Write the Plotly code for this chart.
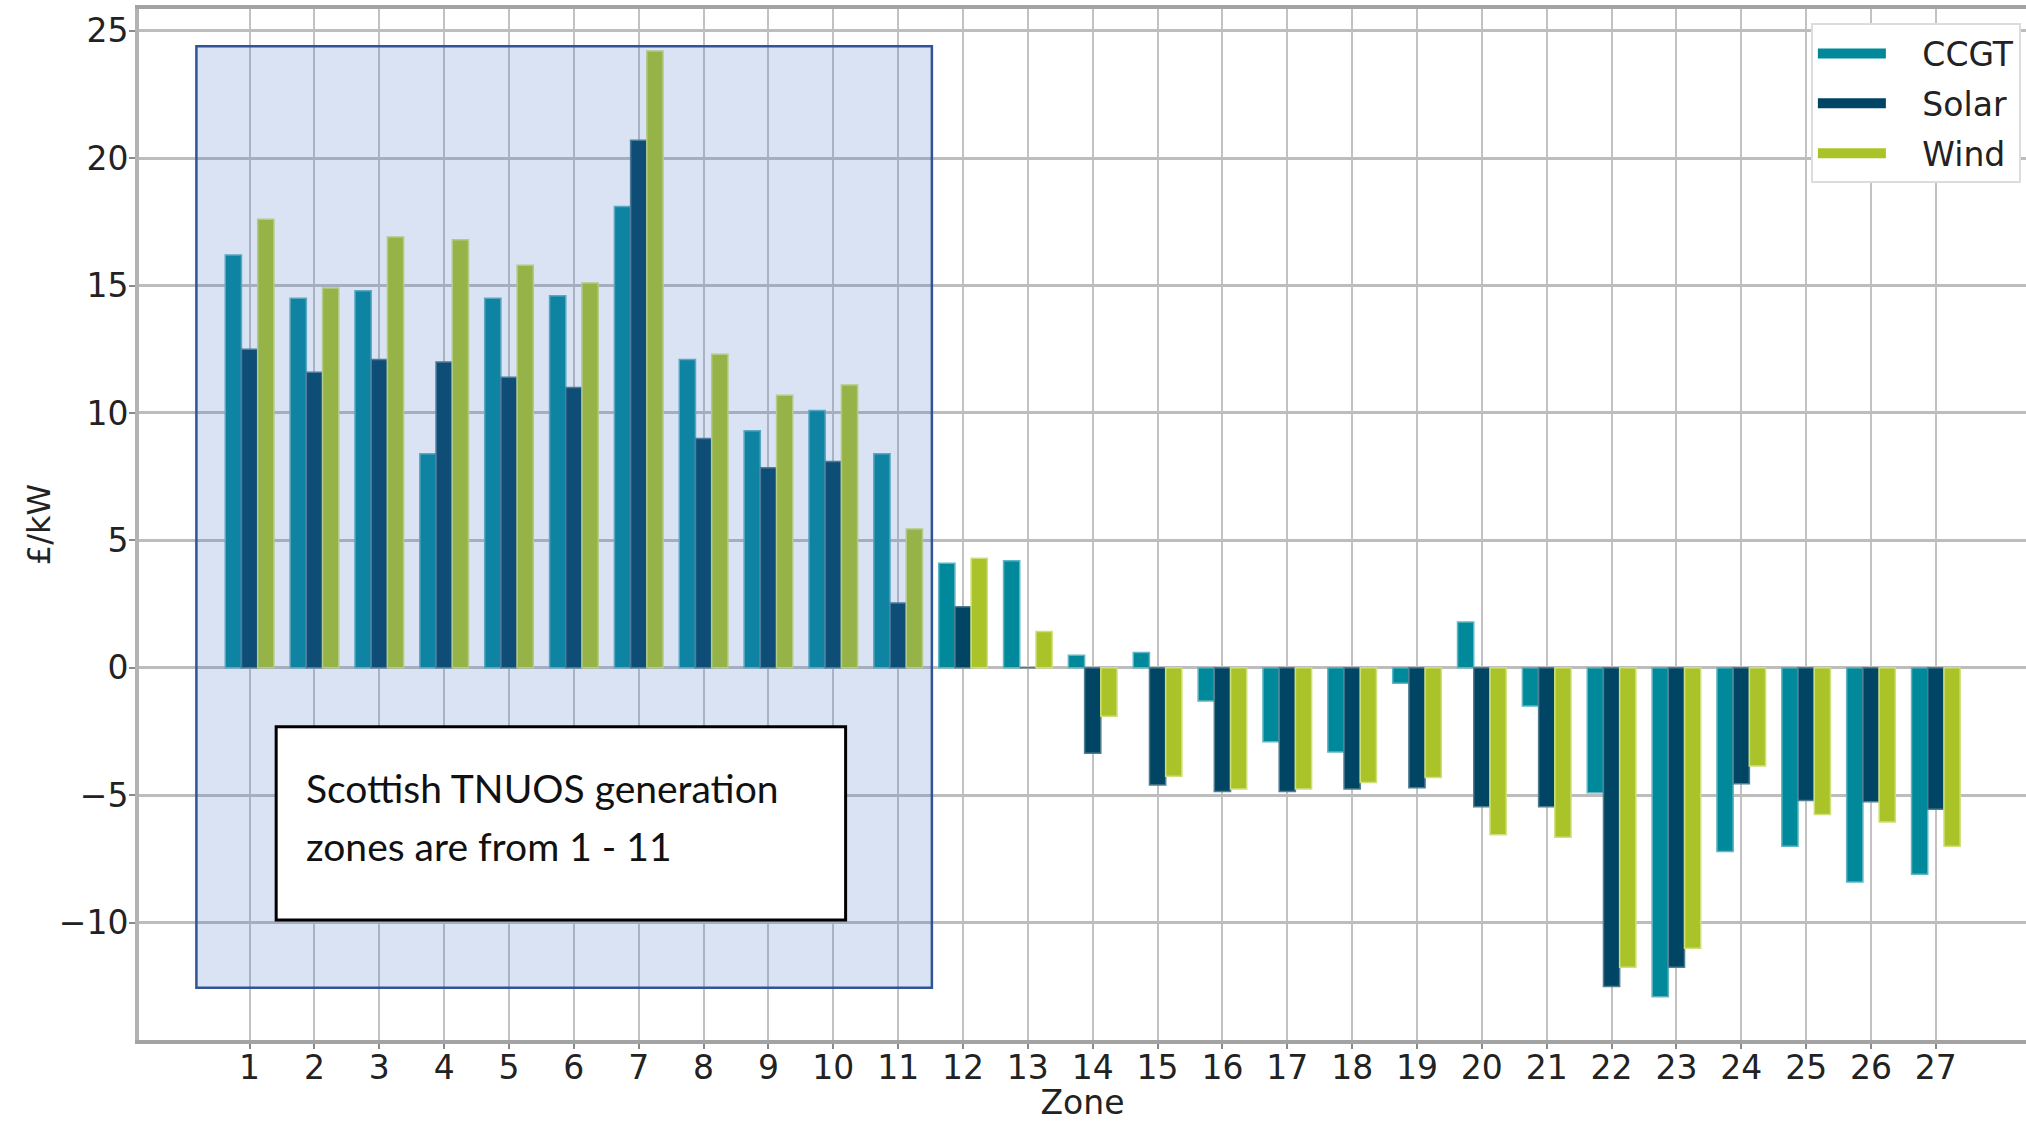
import plotly.graph_objects as go

zones = list(range(1, 28))
ccgt = [16.2, 14.5, 14.8, 8.4, 14.5, 14.6, 18.1, 12.1, 9.3, 10.1, 8.4, 4.1, 4.2,
        0.5, 0.6, -1.3, -2.9, -3.3, -0.6, 1.8, -1.5, -4.9, -12.9, -7.2, -7.0, -8.4, -8.1]
solar = [12.5, 11.6, 12.1, 12.0, 11.4, 11.0, 20.7, 9.0, 7.85, 8.1, 2.55, 2.4, 0.0,
         -3.35, -4.6, -4.85, -4.85, -4.75, -4.7, -5.45, -5.45, -12.5, -11.75, -4.55, -5.2, -5.25, -5.55]
wind = [17.6, 14.9, 16.9, 16.8, 15.8, 15.1, 24.2, 12.3, 10.7, 11.1, 5.45, 4.3, 1.43,
        -1.9, -4.25, -4.75, -4.75, -4.5, -4.3, -6.55, -6.65, -11.75, -11.0, -3.85, -5.75, -6.05, -7.0]

series_names = ["CCGT", "Solar", "Wind"]
series_values = [ccgt, solar, wind]
colors = ["#00899a", "#004563", "#aac329"]
edge_colors = ["#5fb5c1", "#4f7d92", "#cfe07a"]

y_ticks = [-10, -5, 0, 5, 10, 15, 20, 25]
annot_lines = ["Scottish TNUOS generation", "zones are from 1 - 11"]

TICK_FONT = dict(family="DejaVu Sans", size=33, color="#222222")

fig = go.Figure()
for i, (name, vals) in enumerate(zip(series_names, series_values)):
    fig.add_trace(go.Bar(
        x=zones, y=vals, name=name, legendgroup=name, showlegend=False,
        marker=dict(color=colors[i], line=dict(color=edge_colors[i], width=1.5)),
    ))
# legend entries (wide swatches)
for i, name in enumerate(series_names):
    fig.add_trace(go.Scatter(
        x=[None], y=[None], mode="lines", name="\u00a0\u00a0\u00a0" + name, legendgroup=name,
        line=dict(color=colors[i], width=24), hoverinfo="skip",
    ))

# Scottish zones highlight (semi-transparent, drawn above bars)
fig.add_shape(type="rect", xref="x", yref="y", x0=0.18, x1=11.52, y0=-12.55, y1=24.39,
              fillcolor="rgba(68,114,196,0.2)", line=dict(color="#2f5597", width=2.5),
              layer="above")
# White text box
fig.add_shape(type="rect", xref="x", yref="y", x0=1.41, x1=10.19, y0=-9.89, y1=-2.31,
              fillcolor="white", line=dict(color="black", width=3), layer="above")
for txt, yy in zip(annot_lines, [-4.72, -7.0]):
    fig.add_annotation(x=1.84, y=yy, xref="x", yref="y", text=txt, showarrow=False,
                       xanchor="left", yanchor="middle", align="left",
                       font=dict(family="Lato", size=39, color="#111111"))

fig.update_layout(
    width=2026, height=1122,
    margin=dict(l=139, r=0, t=9, b=82),
    paper_bgcolor="white", plot_bgcolor="white",
    barmode="group", bargap=0.25, bargroupgap=0,
    showlegend=True,
    legend=dict(x=0.886, y=0.986, xanchor="left", yanchor="top",
                bgcolor="white", bordercolor="#dcdcdc", borderwidth=2,
                font=dict(family="DejaVu Sans", size=33, color="#222222"),
                itemwidth=68, tracegroupgap=4, traceorder="grouped"),
    font=TICK_FONT,
)
fig.update_xaxes(
    range=[-0.705, 28.39], tickvals=zones, ticktext=[str(z) for z in zones],
    tickfont=TICK_FONT, showgrid=True, gridcolor="#c2c2c2", gridwidth=2,
    showline=True, linecolor="#a3a3a3", linewidth=4, mirror=True,
    ticks="outside", ticklen=5, tickcolor="#8a8a8a", tickwidth=2,
    ticklabelstandoff=-10, automargin=False,
    title=dict(text="Zone", font=TICK_FONT, standoff=26), zeroline=False,
)
fig.update_yaxes(
    range=[-14.6, 25.85], tickvals=y_ticks, ticktext=["\u221210", "\u22125", "0", "5", "10", "15", "20", "25"],
    tickfont=TICK_FONT, showgrid=True, gridcolor="#bdbdbd", gridwidth=2.5,
    showline=True, linecolor="#b3b3b3", linewidth=4, mirror=False,
    ticks="outside", ticklen=6, tickcolor="#8a8a8a", tickwidth=2, automargin=False,
    ticklabelstandoff=-6,
    title=dict(text="£/kW", font=dict(family="DejaVu Sans", size=32, color="#222222"), standoff=0),
    zeroline=False,
)

fig.write_html("out.html", config={"displayModeBar": False},
               post_script="document.body.style.margin='0';")
